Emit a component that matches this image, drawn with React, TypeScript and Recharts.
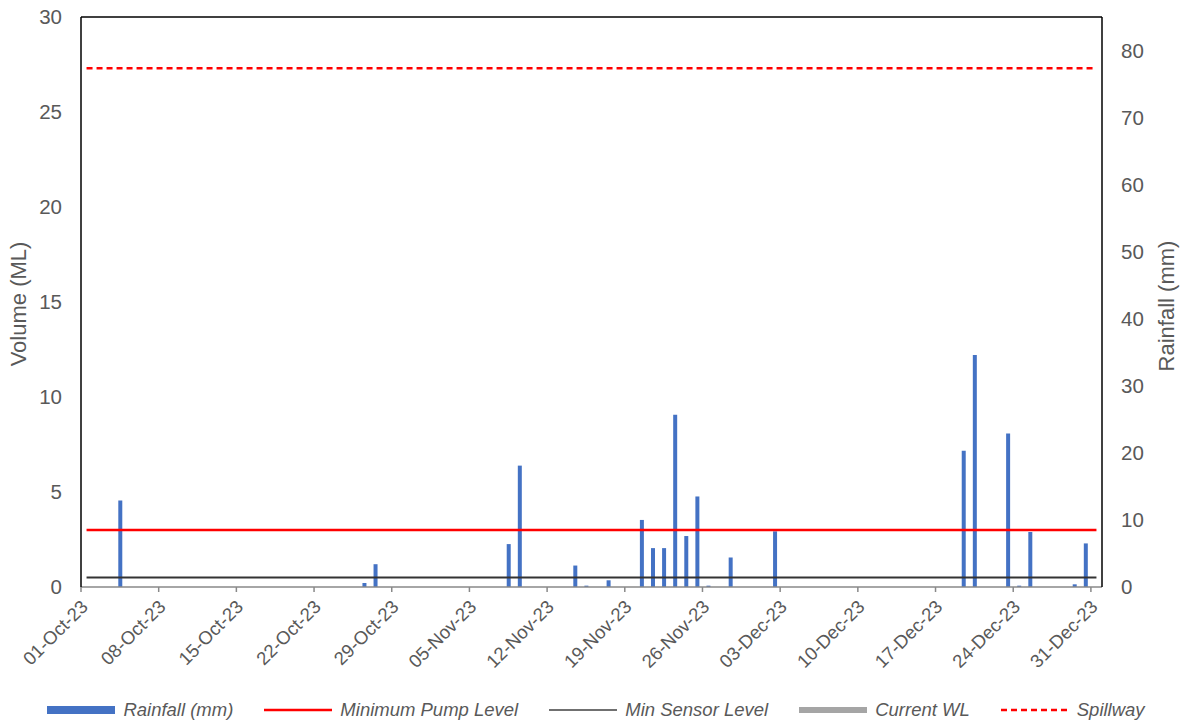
import React from 'react';
import { ComposedChart, Bar, Line, XAxis, YAxis, ReferenceLine, Legend, Label } from 'recharts';

// Day index 0 = 01-Oct-23 ... 91 = 31-Dec-23
const tickDays = [0, 7, 14, 21, 28, 35, 42, 49, 56, 63, 70, 77, 84, 91];
const tickLabels = [
  '01-Oct-23', '08-Oct-23', '15-Oct-23', '22-Oct-23', '29-Oct-23', '05-Nov-23', '12-Nov-23',
  '19-Nov-23', '26-Nov-23', '03-Dec-23', '10-Dec-23', '17-Dec-23', '24-Dec-23', '31-Dec-23',
];

// Daily rainfall (mm), 01-Oct-23 .. 31-Dec-23
const rainfall = [
  0, 0, 0, 12.9, 0, 0, 0, 0, 0, 0,
  0, 0, 0, 0, 0, 0, 0, 0, 0, 0,
  0, 0, 0, 0, 0, 0.6, 3.4, 0, 0, 0,
  0, 0, 0, 0, 0, 0, 0, 0, 6.4, 18.1,
  0, 0, 0, 0, 3.2, 0.2, 0, 1.0, 0, 0,
  10.0, 5.8, 5.8, 25.7, 7.6, 13.5, 0.2, 0, 4.4, 0,
  0, 0, 8.3, 0, 0, 0, 0, 0, 0, 0,
  0, 0, 0, 0, 0, 0, 0, 0, 0, 20.3,
  34.6, 0, 0, 22.9, 0.2, 8.2, 0, 0, 0, 0.4,
  6.5, 0,
];

const minPumpLevel = 3;
const minSensorLevel = 0.5;
const spillwayLevel = 27.3;
const currentWL: (number | null)[] = [];

const volumeTicks = [0, 5, 10, 15, 20, 25, 30];
const rainTicks = [0, 10, 20, 30, 40, 50, 60, 70, 80];

const rows = rainfall.map((mm, i) => ({
  x: i + 0.5,
  rain: mm,
  pump: minPumpLevel,
  sensor: minSensorLevel,
  spill: spillwayLevel,
  wl: currentWL[i] ?? null,
}));

const FONT = '"Liberation Sans", Arial, sans-serif';
const TEXT = '#595959';

const XTick = (props: any) => {
  const { x, y, payload } = props;
  const idx = tickDays.indexOf(payload.value);
  const ax = x + 8;
  const ay = y + 14;
  return (
    <text
      x={ax}
      y={ay}
      transform={`rotate(-45 ${ax} ${ay})`}
      textAnchor="end"
      fontSize={18.5}
      fill={TEXT}
      fontFamily={FONT}
    >
      {idx >= 0 ? tickLabels[idx] : ''}
    </text>
  );
};

const legendItems = [
  { label: 'Rainfall (mm)', kind: 'rect', color: '#4472C4', width: 8, dash: undefined as string | undefined },
  { label: 'Minimum Pump Level', kind: 'line', color: '#FF0000', width: 2.5, dash: undefined },
  { label: 'Min Sensor Level', kind: 'line', color: '#404040', width: 1.5, dash: undefined },
  { label: 'Current WL', kind: 'line', color: '#A5A5A5', width: 6, dash: undefined },
  { label: 'Spillway', kind: 'line', color: '#FF0000', width: 2.5, dash: '6 4' },
];

const renderLegend = () => (
  <div
    style={{
      display: 'flex',
      justifyContent: 'center',
      alignItems: 'center',
      width: '100%',
      height: 28,
      paddingLeft: 8,
      boxSizing: 'border-box',
      fontFamily: FONT,
      fontSize: 18.5,
      fontStyle: 'italic',
      color: TEXT,
    }}
  >
    {legendItems.map((it, i) => (
      <div key={i} style={{ display: 'flex', alignItems: 'center', marginRight: i < legendItems.length - 1 ? 31 : 0 }}>
        <svg width={68} height={12} style={{ marginRight: 8 }}>
          {it.kind === 'rect' ? (
            <rect x={0} y={2} width={68} height={it.width} fill={it.color} />
          ) : (
            <line
              x1={0}
              x2={68}
              y1={6}
              y2={6}
              stroke={it.color}
              strokeWidth={it.width}
              strokeDasharray={it.dash}
              strokeLinecap={it.label === 'Current WL' ? 'round' : 'butt'}
            />
          )}
        </svg>
        <span>{it.label}</span>
      </div>
    ))}
  </div>
);

const AxisTitle = (props: any) => {
  const { viewBox, value, side } = props;
  const cx = side === 'left' ? 18 : viewBox.x + viewBox.width - 18;
  const cy = side === 'left' ? 304 : 306;
  return (
    <text
      x={cx}
      y={cy}
      transform={`rotate(-90 ${cx} ${cy})`}
      textAnchor="middle"
      dominantBaseline="central"
      fontSize={22}
      fill={TEXT}
      fontFamily={FONT}
    >
      {value}
    </text>
  );
};

export default function App() {
  return (
    <div style={{ position: 'absolute', left: 0, top: 0, width: 1184, height: 724, background: '#fff' }}>
      <ComposedChart width={1184} height={724} data={rows} margin={{ top: 17, right: 0, bottom: 0, left: 0 }}>
        <XAxis
          dataKey="x"
          type="number"
          domain={[0, 92]}
          ticks={tickDays}
          interval={0}
          height={109}
          stroke="#898989"
          strokeWidth={1.5}
          tickSize={5}
          tickMargin={2}
          tick={<XTick />}
          allowDataOverflow
        />
        <YAxis
          yAxisId="vol"
          domain={[0, 30]}
          ticks={volumeTicks}
          width={81}
          axisLine={{ stroke: '#000', strokeWidth: 1.5 }}
          tickLine={false}
          tickSize={6}
          tickMargin={13}
          tick={{ fill: TEXT, fontSize: 20.5, fontFamily: FONT }}
          label={<Label content={<AxisTitle side="left" />} value="Volume (ML)" />}
        />
        <YAxis
          yAxisId="rain"
          orientation="right"
          domain={[0, 85]}
          ticks={rainTicks}
          width={82}
          axisLine={{ stroke: '#000', strokeWidth: 1.5 }}
          tickLine={false}
          tickSize={6}
          tickMargin={13}
          tick={{ fill: TEXT, fontSize: 20.5, fontFamily: FONT }}
          label={<Label content={<AxisTitle side="right" />} value="Rainfall (mm)" />}
        />
        <ReferenceLine yAxisId="vol" y={30} stroke="#000" strokeWidth={1.5} />
        <Bar yAxisId="rain" dataKey="rain" fill="#4472C4" barSize={4} isAnimationActive={false} name="Rainfall (mm)" />
        <Line yAxisId="vol" dataKey="pump" stroke="#FF0000" strokeWidth={2.5} dot={false} isAnimationActive={false} name="Minimum Pump Level" />
        <Line yAxisId="vol" dataKey="sensor" stroke="#333333" strokeWidth={2} dot={false} isAnimationActive={false} name="Min Sensor Level" />
        <Line yAxisId="vol" dataKey="wl" stroke="#A5A5A5" strokeWidth={6} dot={false} isAnimationActive={false} name="Current WL" />
        <Line yAxisId="vol" dataKey="spill" stroke="#FF0000" strokeWidth={2.5} strokeDasharray="6 4" dot={false} isAnimationActive={false} name="Spillway" />
        <Legend verticalAlign="bottom" align="center" height={28} content={renderLegend} wrapperStyle={{ left: 0, width: 1184, bottom: 0 }} />
      </ComposedChart>
    </div>
  );
}
